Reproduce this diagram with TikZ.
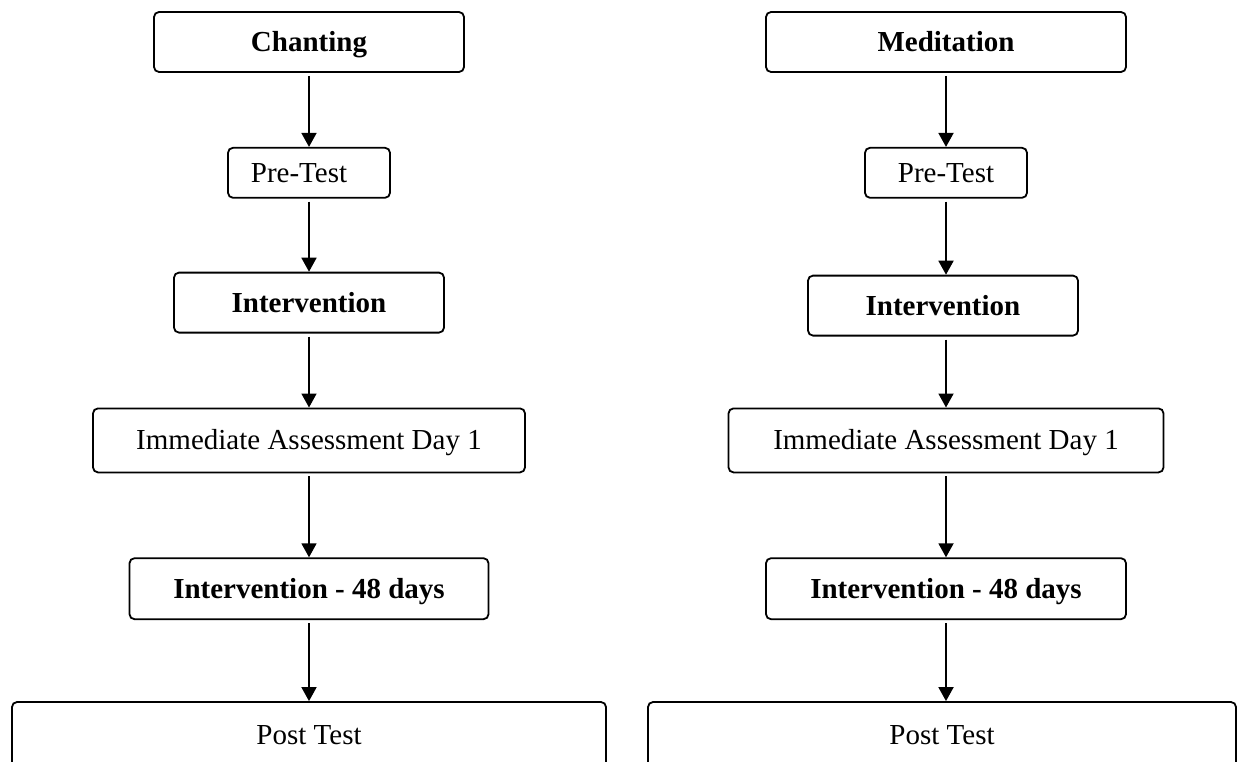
\documentclass[tikz,border=0pt]{standalone}
\usepackage{fontspec}
\setmainfont{Liberation Serif}
\usetikzlibrary{positioning,arrows.meta}

\begin{document}
\begin{tikzpicture}
        [x = 1pt, y = 1pt,
            > = {Triangle[length=14pt, width=15pt]},
            line width = 1.8pt,
            base node/.style = {rectangle, rounded corners=5pt, draw, inner sep=0pt,
                text height=19pt, text depth=0pt, font=\fontsize{29}{34}\selectfont},
            main node/.style = {base node, font=\fontsize{29}{34}\selectfont\bfseries},
            test node/.style = {base node}]
        \useasboundingbox (0,0) rectangle (1241,-762);

        % chanting group
        \node[main node, minimum width=310pt, minimum height=60pt] (chantTop) at (309,-42) {Chanting};
        \node[test node, minimum width=162pt, minimum height=50pt] (chantPre) [below=74pt of chantTop] {Pre-Test\hspace*{20pt}};
        \node[main node, minimum width=270pt, minimum height=60pt] (chantInt) [below=73pt of chantPre] {Intervention};
        \node[test node, minimum width=432pt, minimum height=64pt] (chantImm) [below=74pt of chantInt] {Immediate Assessment Day 1};
        \node[main node, minimum width=359pt, minimum height=61pt] (chantLong) [below=84pt of chantImm] {Intervention - 48 days};
        \node[test node, minimum width=594pt, minimum height=66pt] (chantPost) [below=81pt of chantLong] {Post Test};

        % meditation group
        \node[main node, minimum width=360pt, minimum height=60pt] (medTop) at (946,-42) {Meditation};
        \node[test node, minimum width=162pt, minimum height=50pt] (medPre) [below=74pt of medTop] {Pre-Test};
        \node[main node, minimum width=270pt, minimum height=60pt] (medInt) [below=76pt of medPre, xshift=-3pt] {Intervention};
        \node[test node, minimum width=435pt, minimum height=64pt] (medImm) [below=71pt of medInt, xshift=3pt] {Immediate Assessment Day 1};
        \node[main node, minimum width=360pt, minimum height=61pt] (medLong) [below=84pt of medImm] {Intervention - 48 days};
        \node[test node, minimum width=588pt, minimum height=66pt] (medPost) [below=81pt of medLong, xshift=-4pt] {Post Test};

        \path[->, shorten < = 3pt]
        (chantTop) edge (chantPre)
        (chantPre) edge (chantInt)
        (chantInt) edge (chantImm)
        (chantImm) edge (chantLong)
        (chantLong) edge (chantPost)
        (medTop) edge (medPre)
        (medPre) edge (medInt.north -| medPre.south)
        (medInt.south -| medImm.north) edge (medImm)
        (medImm) edge (medLong)
        (medLong.south) edge (medLong.south |- medPost.north);
    \end{tikzpicture}
\end{document}
